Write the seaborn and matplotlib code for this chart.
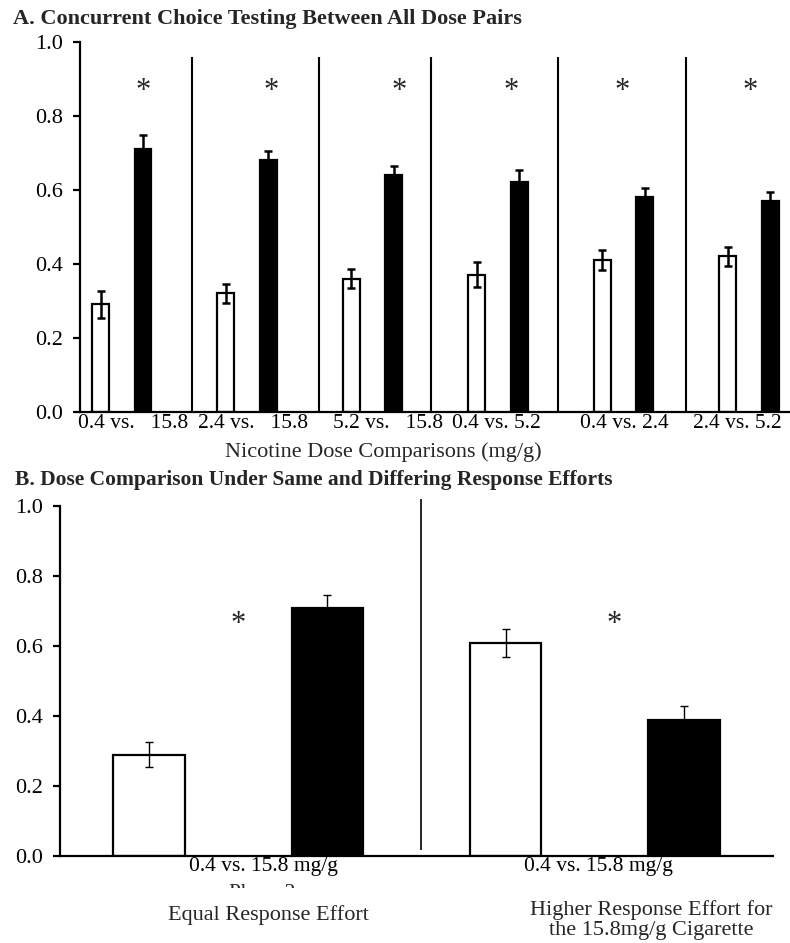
import matplotlib
matplotlib.use("Agg")
import matplotlib.pyplot as plt
import seaborn as sns
import pandas as pd
from matplotlib.transforms import Bbox, TransformedBbox

# ---- Panel A: concurrent choice between all dose pairs ----
pairs_a = ["0.4 vs. 15.8", "2.4 vs. 15.8", "5.2 vs. 15.8",
           "0.4 vs. 5.2", "0.4 vs. 2.4", "2.4 vs. 5.2"]
tick_labels_a = ["0.4 vs.   15.8", "2.4 vs.   15.8", "5.2 vs.   15.8",
                 "0.4 vs. 5.2", "0.4 vs. 2.4", "2.4 vs. 5.2"]
lower_dose_a = [0.29, 0.32, 0.36, 0.37, 0.41, 0.42]
higher_dose_a = [0.71, 0.68, 0.64, 0.62, 0.58, 0.57]
lower_err_a = [0.037, 0.025, 0.025, 0.034, 0.026, 0.025]
higher_err_a = [0.037, 0.024, 0.024, 0.034, 0.025, 0.025]

# ---- Panel B: same vs differing response effort ----
conditions_b = ["Equal", "Higher"]
tick_labels_b = ["0.4 vs. 15.8 mg/g", "0.4 vs. 15.8 mg/g"]
lower_dose_b = [0.29, 0.61]
higher_dose_b = [0.71, 0.39]
lower_err_b = [0.037, 0.04]
higher_err_b = [0.037, 0.038]

yticks = [0.0, 0.2, 0.4, 0.6, 0.8, 1.0]

sns.set_style("ticks")
plt.rcParams["font.family"] = ["Liberation Serif", "DejaVu Serif"]
plt.rcParams["axes.linewidth"] = 1.6

W, H = 790, 943
fig = plt.figure(figsize=(W / 100, H / 100), dpi=100)


def fx(px):
    return px / W


def fy(py):
    return 1 - py / H


def long_frame(cats, low, high):
    return pd.DataFrame({
        "cat": list(cats) * 2,
        "dose": ["Lower"] * len(cats) + ["Higher"] * len(cats),
        "prop": list(low) + list(high),
    })


def draw_bars(ax, df, order, errs, width, gap, lw, elw):
    sns.barplot(data=df, x="cat", y="prop", hue="dose", order=order,
                hue_order=["Lower", "Higher"],
                palette={"Lower": "white", "Higher": "black"},
                edgecolor="black", linewidth=lw, width=width, gap=gap,
                errorbar=None, legend=False, ax=ax)
    for container, err in zip(ax.containers, errs):
        xs = [p.get_x() + p.get_width() / 2 for p in container.patches]
        ys = [p.get_height() for p in container.patches]
        ax.errorbar(xs, ys, yerr=err, fmt="none", ecolor="black",
                    elinewidth=elw, capsize=3, capthick=elw, zorder=5)


def style_y(ax):
    ax.set_ylim(0, 1.0)
    ax.set_yticks(yticks, [f"{v:.1f}" for v in yticks])
    ax.tick_params(axis="y", length=5, width=1.6, pad=7, labelsize=16,
                   direction="out", colors="black")
    ax.tick_params(axis="x", length=0, labelsize=16, colors="black")
    ax.set_xlabel("")
    ax.set_ylabel("")
    sns.despine(ax=ax)
    for s in ("left", "bottom"):
        ax.spines[s].set_color("black")


# ---------------- Panel A ----------------
axA = fig.add_axes([fx(80), fy(411.7), fx(790) - fx(80), fy(41.7) - fy(411.7)])
dfA = long_frame(pairs_a, lower_dose_a, higher_dose_a)
draw_bars(axA, dfA, pairs_a, [lower_err_a, higher_err_a],
          width=0.677, gap=0.6, lw=1.6, elw=1.8)
axA.set_xlim(-0.333, 5.327)
style_y(axA)
label_shift_a = [0.09, 0.05, 0.12, -0.01, 0.01, -0.09]
axA.set_xticks([i + s for i, s in enumerate(label_shift_a)], tick_labels_a)
axA.tick_params(axis="x", pad=2, labelsize=15.5)

# group dividers and significance marks
for xd in [0.558, 1.575, 2.463, 3.480, 4.498]:
    axA.plot([xd, xd], [0, 0.96], color="black", lw=1.5, solid_capstyle="butt")
for xs in [0.172, 1.187, 2.210, 3.100, 3.988, 5.008]:
    axA.text(xs, 0.845, "*", ha="center", va="baseline", fontsize=22)

fig.text(fx(13), fy(24), "A. Concurrent Choice Testing Between All Dose Pairs",
         fontsize=16, fontweight="bold", ha="left", va="baseline")
fig.text(fx(383.5), fy(457), "Nicotine Dose Comparisons (mg/g)",
         fontsize=16, ha="center", va="baseline")

# ---------------- Panel B ----------------
axB = fig.add_axes([fx(60), fy(856), fx(773) - fx(60), fy(506) - fy(856)])
dfB = long_frame(conditions_b, lower_dose_b, higher_dose_b)
draw_bars(axB, dfB, conditions_b, [lower_err_b, higher_err_b],
          width=1.0, gap=0.6, lw=1.6, elw=1.0)
axB.set_xlim(-0.5, 1.5)
style_y(axB)
axB.set_xticks([0.07, 1.01], tick_labels_b)
axB.tick_params(axis="x", pad=1, labelsize=15.5)
axB.plot([0.512, 0.512], [0.017, 1.02], color="black", lw=1.2,
         clip_on=False, solid_capstyle="butt")
for xs in [0.0, 1.054]:
    axB.text(xs, 0.64, "*", ha="center", va="baseline", fontsize=22)

fig.text(fx(15), fy(485), "B. Dose Comparison Under Same and Differing Response Efforts",
         fontsize=15.5, fontweight="bold", ha="left", va="baseline")

# second line of the left category label, partly hidden below the first
phase = fig.text(fx(262), fy(898), "Phase 2", fontsize=15.5, ha="center", va="baseline")
phase.set_clip_box(TransformedBbox(Bbox.from_extents(0, fy(888), 1, 1), fig.transFigure))
phase.set_clip_on(True)

fig.text(fx(268), fy(920), "Equal Response Effort", fontsize=16,
         ha="center", va="baseline")
fig.text(fx(651), fy(915), "Higher Response Effort for", fontsize=16,
         ha="center", va="baseline")
fig.text(fx(651), fy(935), "the 15.8mg/g Cigarette", fontsize=16,
         ha="center", va="baseline")

fig.savefig("out.png", dpi=100)
